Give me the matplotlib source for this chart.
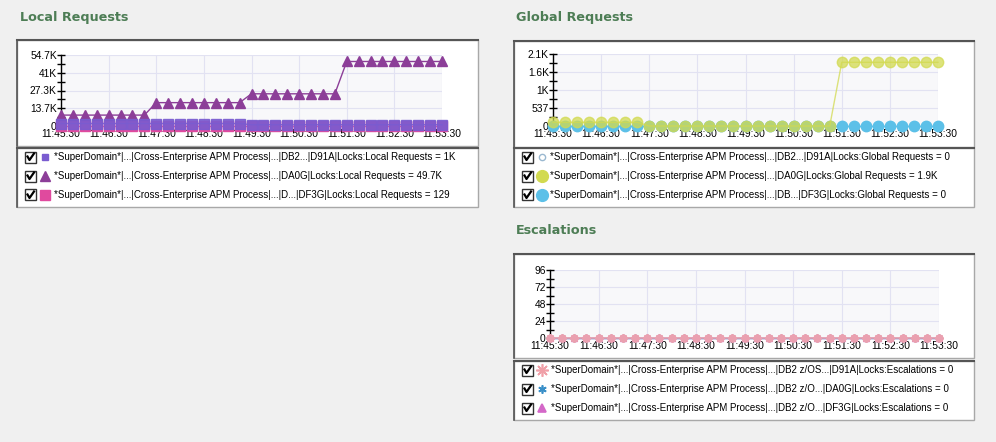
import matplotlib
matplotlib.use("Agg")
import matplotlib.pyplot as plt
from matplotlib.lines import Line2D
from matplotlib.patches import Rectangle
from matplotlib.ticker import FixedLocator

W, H = 996, 442

# sample times, one every 15 s
times = ["11:45:30", "11:45:45", "11:46:00", "11:46:15", "11:46:30", "11:46:45", "11:47:00", "11:47:15",
         "11:47:30", "11:47:45", "11:48:00", "11:48:15", "11:48:30", "11:48:45", "11:49:00", "11:49:15",
         "11:49:30", "11:49:45", "11:50:00", "11:50:15", "11:50:30", "11:50:45", "11:51:00", "11:51:15",
         "11:51:30", "11:51:45", "11:52:00", "11:52:15", "11:52:30", "11:52:45", "11:53:00", "11:53:15",
         "11:53:30"]
tick_labels = ["11:45:30", "11:46:30", "11:47:30", "11:48:30", "11:49:30",
               "11:50:30", "11:51:30", "11:52:30", "11:53:30"]

# Local Requests
local_d91a = [1900, 1900, 1900, 1900, 1900, 1900, 1900, 1900, 1900, 1900, 1900, 1900, 1900, 1900, 1900, 1900,
              1000, 1000, 1000, 1000, 1000, 1000, 1000, 1000, 1000, 1000, 1000, 1000, 1000, 1000, 1000, 1000, 1000]
local_da0g = [8400, 8400, 8400, 8400, 8400, 8400, 8400, 8400,
              18000, 18000, 18000, 18000, 18000, 18000, 18000, 18000,
              24800, 24800, 24800, 24800, 24800, 24800, 24800, 24800,
              49700, 49700, 49700, 49700, 49700, 49700, 49700, 49700, 49700]
local_df3g = [129] * 33
local_ticks = ["0", "13.7K", "27.3K", "41K", "54.7K"]
local_top = 54700

# Global Requests
global_d91a = [0] * 33
global_da0g = [110, 110, 110, 110, 110, 110, 110, 110,
               0, 0, 0, 0, 0, 0, 0, 0, 0, 0, 0, 0, 0, 0, 0, 0,
               1900, 1900, 1900, 1900, 1900, 1900, 1900, 1900, 1900]
global_df3g = [0] * 33
global_ticks = ["0", "537", "1K", "1.6K", "2.1K"]
global_top = 2148

# Escalations
esc_d91a = [0] * 33
esc_da0g = [0] * 33
esc_df3g = [0] * 33
esc_ticks = ["0", "24", "48", "72", "96"]
esc_top = 96

local_names = ["*SuperDomain*|...|Cross-Enterprise APM Process|...|DB2...|D91A|Locks:Local Requests = 1K",
               "*SuperDomain*|...|Cross-Enterprise APM Process|...|DA0G|Locks:Local Requests = 49.7K",
               "*SuperDomain*|...|Cross-Enterprise APM Process|...|D...|DF3G|Locks:Local Requests = 129"]
global_names = ["*SuperDomain*|...|Cross-Enterprise APM Process|...|DB2...|D91A|Locks:Global Requests = 0",
                "*SuperDomain*|...|Cross-Enterprise APM Process|...|DA0G|Locks:Global Requests = 1.9K",
                "*SuperDomain*|...|Cross-Enterprise APM Process|...|DB...|DF3G|Locks:Global Requests = 0"]
esc_names = ["*SuperDomain*|...|Cross-Enterprise APM Process|...|DB2 z/OS...|D91A|Locks:Escalations = 0",
             "*SuperDomain*|...|Cross-Enterprise APM Process|...|DB2 z/O...|DA0G|Locks:Escalations = 0",
             "*SuperDomain*|...|Cross-Enterprise APM Process|...|DB2 z/O...|DF3G|Locks:Escalations = 0"]

plt.rcParams["font.family"] = ["Liberation Sans", "DejaVu Sans"]
TICK_FS = 7.4
LEG_FS = 7.0

fig = plt.figure(figsize=(W / 100, H / 100), dpi=100, facecolor="#f0f0f0")


def fx(x):
    return x / W


def fy(y):
    return 1 - y / H


def box(x0, y0, x1, y1):
    fig.add_artist(Rectangle((fx(x0), fy(y1)), fx(x1) - fx(x0), fy(y0) - fy(y1),
                             transform=fig.transFigure, facecolor="white",
                             edgecolor="#a8a8a8", lw=1, zorder=0.1))
    fig.add_artist(Line2D([fx(x0), fx(x1)], [fy(y0), fy(y0)], transform=fig.transFigure,
                          color="#555555", lw=1.5, zorder=0.2))
    fig.add_artist(Line2D([fx(x0), fx(x0)], [fy(y0), fy(y1)], transform=fig.transFigure,
                          color="#555555", lw=1.2, zorder=0.2))


def checkbox(x, y):
    fig.add_artist(Rectangle((fx(x), fy(y + 5.5)), 11 / W, 11 / H, transform=fig.transFigure,
                             facecolor="white", edgecolor="#333333", lw=1, zorder=2))
    fig.add_artist(Line2D([fx(x + 2.5), fx(x + 4.5), fx(x + 9)],
                          [fy(y - 0.5), fy(y + 3), fy(y - 3.5)], transform=fig.transFigure,
                          color="black", lw=1.6, zorder=3))


def chart(x0, x1, ytop, ybot, top, ticks):
    ax = fig.add_axes([fx(x0), fy(ybot), fx(x1) - fx(x0), fy(ytop) - fy(ybot)])
    ax.set_zorder(1)
    ax.set_facecolor("#f8f8fa")
    ax.set_xlim(0, len(times) - 1)
    ax.set_ylim(0, top)
    for s in ["top", "right", "bottom"]:
        ax.spines[s].set_visible(False)
    ax.spines["left"].set_color("black")
    ax.spines["left"].set_linewidth(1)
    ax.set_xticks(range(0, len(times), 4))
    ax.set_xticklabels(tick_labels)
    ax.set_yticks([top * i / 4 for i in range(5)])
    ax.set_yticklabels(ticks)
    ax.yaxis.set_minor_locator(FixedLocator([top * (2 * i + 1) / 8 for i in range(4)]))
    ax.tick_params(axis="y", which="both", direction="inout", length=6, width=1,
                   color="black", pad=0, labelsize=TICK_FS)
    ax.tick_params(axis="x", length=0, pad=2.5, labelsize=TICK_FS)
    ax.grid(True, color="#e2e2f2", lw=0.8)
    ax.set_axisbelow(True)
    return ax


x = list(range(len(times)))

# ---------------- Local Requests ----------------
fig.text(fx(20), fy(17), "Local Requests", fontsize=9.2, fontweight="bold",
         color="#4d7d55", va="center", ha="left", family="DejaVu Sans")
box(17, 40, 478, 146)
box(17, 148, 478, 207)
ax = chart(61, 442, 55, 126, local_top, local_ticks)
ax.plot(x, local_df3g, color="#e04a9e", lw=1, marker="s", ms=6.5, clip_on=False, zorder=3)
ax.plot(x, local_da0g, color="#8c3e98", lw=1, marker="^", ms=7, clip_on=False, zorder=4)
ax.plot(x, local_d91a, color="#7a5cd0", lw=1, marker="s", ms=6.5, clip_on=False, zorder=5, alpha=0.9)

leg_local = [dict(marker="s", color="#7a5cd0", ms=4.5), dict(marker="^", color="#8c3e98", ms=7),
             dict(marker="s", color="#e04a9e", ms=7.5)]
for i, (name, st) in enumerate(zip(local_names, leg_local)):
    yy = [157, 176, 195][i]
    checkbox(25, yy)
    fig.add_artist(Line2D([fx(45)], [fy(yy)], transform=fig.transFigure, ls="none",
                          marker=st["marker"], color=st["color"], ms=st["ms"], zorder=2))
    fig.text(fx(54), fy(yy), name, fontsize=LEG_FS, va="center", ha="left")

# ---------------- Global Requests ----------------
fig.text(fx(516), fy(17), "Global Requests", fontsize=9.2, fontweight="bold",
         color="#4d7d55", va="center", ha="left", family="DejaVu Sans")
box(514, 41, 974, 147)
box(514, 148, 974, 207)
ax = chart(553, 938, 54, 126, global_top, global_ticks)
ax.plot(x, global_df3g, color="#5cc0e8", lw=1, marker="o", ms=7.5, clip_on=False, zorder=3)
ax.plot(x, global_da0g, color="#d2da50", lw=1, marker="o", ms=7.5, clip_on=False, zorder=4, alpha=0.75)
ax.plot(x, global_d91a, color="#a8c8e0", lw=0, marker="o", ms=4, mfc="none", clip_on=False, zorder=2)

leg_global = [dict(marker="o", color="#9ab8d0", ms=4.5, mfc="none"),
              dict(marker="o", color="#d2da50", ms=8.5, mfc="#d2da50"),
              dict(marker="o", color="#5cc0e8", ms=8.5, mfc="#5cc0e8")]
for i, (name, st) in enumerate(zip(global_names, leg_global)):
    yy = [157, 176, 195][i]
    checkbox(522, yy)
    fig.add_artist(Line2D([fx(542)], [fy(yy)], transform=fig.transFigure, ls="none",
                          marker=st["marker"], color=st["color"], mfc=st["mfc"], ms=st["ms"], zorder=2))
    fig.text(fx(550), fy(yy), name, fontsize=LEG_FS, va="center", ha="left")

# ---------------- Escalations ----------------
fig.text(fx(516), fy(230), "Escalations", fontsize=9.2, fontweight="bold",
         color="#4d7d55", va="center", ha="left", family="DejaVu Sans")
box(514, 254, 974, 358)
box(514, 361, 974, 420)
ax = chart(550, 939, 270, 338, esc_top, esc_ticks)
ax.plot(x, esc_df3g, color="#d468c8", lw=1, marker="^", ms=5, clip_on=False, zorder=3)
ax.plot(x, esc_da0g, color="#3a8fc8", lw=1, marker=(6, 2, 0), ms=5.5, clip_on=False, zorder=4)
ax.plot(x, esc_d91a, color="#eaa0b0", lw=1.2, marker=(8, 2, 0), ms=6, mew=1.5, clip_on=False, zorder=5)

leg_esc = [dict(marker=(8, 2, 0), color="#f0a0a8", ms=9), dict(marker=(6, 2, 0), color="#3a8fc8", ms=6),
           dict(marker="^", color="#d468c8", ms=6)]
for i, (name, st) in enumerate(zip(esc_names, leg_esc)):
    yy = [370, 389, 408][i]
    checkbox(522, yy)
    fig.add_artist(Line2D([fx(542)], [fy(yy)], transform=fig.transFigure, ls="none",
                          marker=st["marker"], color=st["color"], ms=st["ms"], mew=1.2, zorder=2))
    fig.text(fx(551), fy(yy), name, fontsize=LEG_FS, va="center", ha="left")

fig.savefig("out.png", dpi=100, facecolor=fig.get_facecolor())
